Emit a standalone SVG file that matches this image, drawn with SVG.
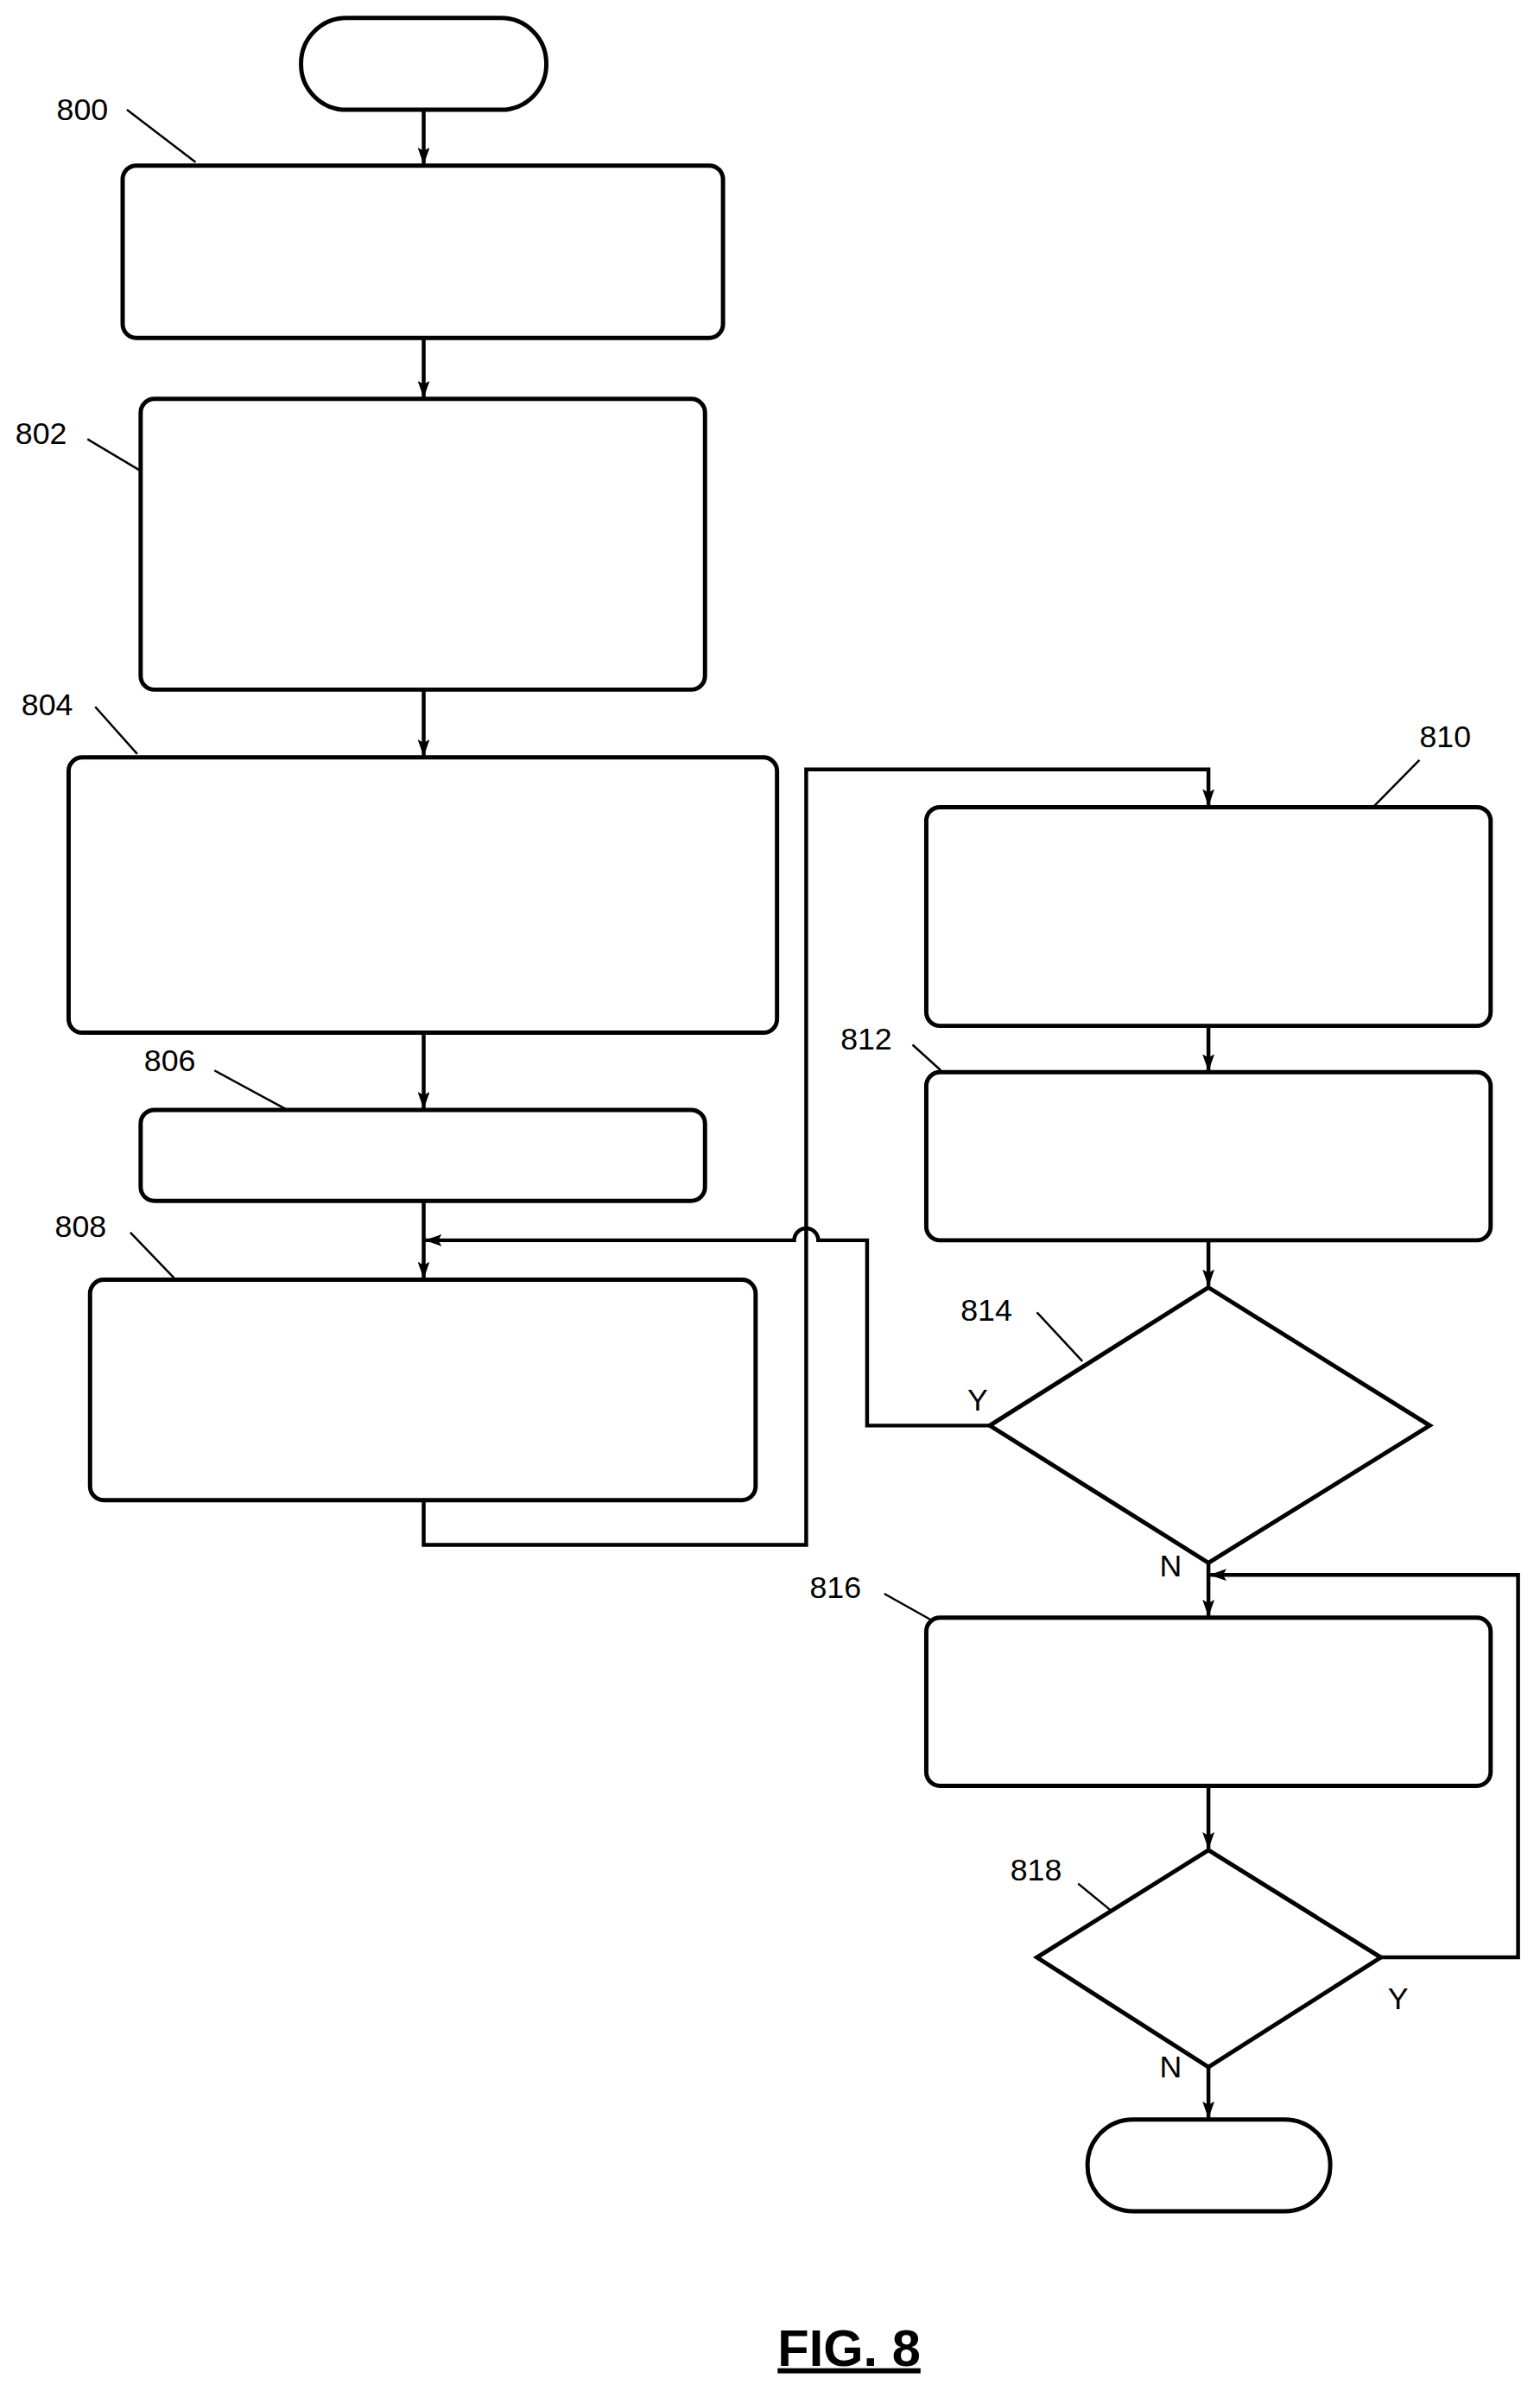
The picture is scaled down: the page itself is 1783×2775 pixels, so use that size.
<svg xmlns="http://www.w3.org/2000/svg" width="1783" height="2775" viewBox="0 0 1783 2775">
<style>
.n{fill:#fff;stroke:#000;stroke-width:5}
.c{fill:none;stroke:#000;stroke-width:4.5}
.l{fill:none;stroke:#000;stroke-width:2.5}
.t{font-family:"Liberation Sans Narrow","Liberation Sans",sans-serif;font-size:36px;fill:#000}
</style>
<defs>
<marker id="a" markerWidth="20" markerHeight="14" refX="19" refY="7" orient="auto" markerUnits="userSpaceOnUse" viewBox="0 0 20 14">
<path d="M0,0 L20,7 L0,14 L4,7 Z" fill="#000"/>
</marker>
</defs>
<rect width="1783" height="2775" fill="#fff"/>
<g transform="scale(0.993)">
<g id="connectors">
<path class="c" d="M494,128 V191" marker-end="url(#a)"/>
<path class="c" d="M494,394 V463" marker-end="url(#a)"/>
<path class="c" d="M494,804 V881" marker-end="url(#a)"/>
<path class="c" d="M494,1204 V1292" marker-end="url(#a)"/>
<path class="c" d="M494,1400 V1490" marker-end="url(#a)"/>
<path class="c" d="M494,1749 V1801 H940 V897 H1409 V939" marker-end="url(#a)"/>
<path class="c" d="M1154,1662 H1011 V1446 H954 A14,14 0 0 0 926,1446 H496" marker-end="url(#a)"/>
<path class="c" d="M1409,1196 V1248" marker-end="url(#a)"/>
<path class="c" d="M1409,1446 V1499" marker-end="url(#a)"/>
<path class="c" d="M1409,1822 V1884" marker-end="url(#a)"/>
<path class="c" d="M1409,2082 V2155" marker-end="url(#a)"/>
<path class="c" d="M1610,2282 H1770 V1836 H1411" marker-end="url(#a)"/>
<path class="c" d="M1409,2410 V2469" marker-end="url(#a)"/>
<path class="l" d="M148,128 L228,189"/>
<path class="l" d="M102,512 L164,549"/>
<path class="l" d="M111,824 L160,879"/>
<path class="l" d="M250,1248 L333,1293"/>
<path class="l" d="M152,1437 L205,1492"/>
<path class="l" d="M1655,886 L1601,941"/>
<path class="l" d="M1064,1218 L1097,1248"/>
<path class="l" d="M1209,1530 L1262,1587"/>
<path class="l" d="M1031,1858 L1088,1890"/>
<path class="l" d="M1257,2196 L1296,2228"/>
</g>
<g id="start"><rect class="n" x="351" y="21" width="286" height="107" rx="53"/></g>
<g id="n800"><rect class="n" x="143" y="193" width="700" height="201" rx="16"/><text class="t" x="66" y="140">800</text></g>
<g id="n802"><rect class="n" x="164" y="465" width="658" height="339" rx="16"/><text class="t" x="18" y="518">802</text></g>
<g id="n804"><rect class="n" x="80" y="883" width="826" height="321" rx="16"/><text class="t" x="25" y="834">804</text></g>
<g id="n806"><rect class="n" x="164" y="1294" width="658" height="106" rx="16"/><text class="t" x="168" y="1249">806</text></g>
<g id="n808"><rect class="n" x="105" y="1492" width="776" height="257" rx="16"/><text class="t" x="64" y="1442">808</text></g>
<g id="n810"><rect class="n" x="1080" y="941" width="658" height="255" rx="16"/><text class="t" x="1655" y="871">810</text></g>
<g id="n812"><rect class="n" x="1080" y="1250" width="658" height="196" rx="16"/><text class="t" x="980" y="1224">812</text></g>
<g id="n814"><polygon class="n" points="1409,1501 1667,1662 1409,1822 1154,1662"/><text class="t" x="1120" y="1540">814</text><text class="t" x="1128" y="1645">Y</text><text class="t" x="1352" y="1838">N</text></g>
<g id="n816"><rect class="n" x="1080" y="1886" width="658" height="196" rx="16"/><text class="t" x="944" y="1863">816</text></g>
<g id="n818"><polygon class="n" points="1409,2157 1610,2282 1409,2410 1209,2282"/><text class="t" x="1178" y="2192">818</text><text class="t" x="1618" y="2342">Y</text><text class="t" x="1352" y="2422">N</text></g>
<g id="end"><rect class="n" x="1268" y="2471" width="283" height="107" rx="53"/></g>
<g id="title"><text x="990" y="2758" text-anchor="middle" font-family="Liberation Sans,sans-serif" font-weight="bold" font-size="60" text-decoration="underline">FIG. 8</text></g>
</g>
</svg>
